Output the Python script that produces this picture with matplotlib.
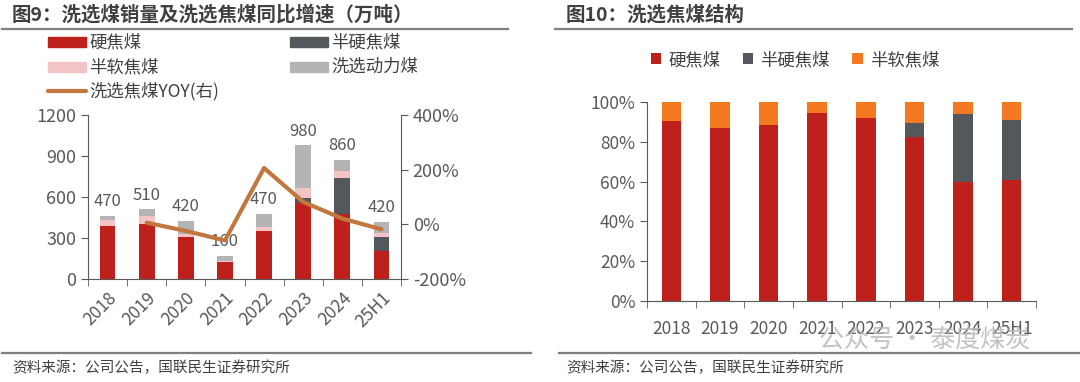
import matplotlib
matplotlib.use("Agg")
import matplotlib.pyplot as plt
import numpy as np
from matplotlib.ticker import FixedLocator, FuncFormatter
from matplotlib.lines import Line2D
from matplotlib.patches import Rectangle

plt.rcParams["font.family"] = ["Noto Sans CJK SC", "DejaVu Sans"]

# --------------------------------------------------------------------------- #
# Data
# --------------------------------------------------------------------------- #
years = ["2018", "2019", "2020", "2021", "2022", "2023", "2024", "25H1"]

# left chart, 万吨
hard = [390, 402, 310, 122, 351, 554, 473, 205]
semi_hard = [0, 0, 0, 0, 0, 41, 268, 105]
semi_soft = [42, 59, 20, 10, 32, 73, 49, 24]
thermal = [29, 49, 94, 39, 93, 312, 81, 86]
totals = [470, 510, 420, 160, 470, 980, 860, 420]
yoy_years = ["2019", "2020", "2021", "2022", "2023", "2024", "25H1"]
yoy = [6, -24, -59, 206, 82, 21, -18]

# right chart, share (%)
share_hard = [90.6, 86.8, 88.4, 94.6, 91.8, 82.2, 59.8, 60.8]
share_semi_hard = [0, 0, 0, 0, 0, 7.2, 34.2, 30.2]
share_semi_soft = [9.4, 13.2, 11.6, 5.4, 8.2, 10.6, 6.0, 9.0]

C_HARD = "#BE201C"
C_SEMIHARD = "#54575B"
C_SEMISOFT = "#F2C4C5"
C_THERMAL = "#B4B4B4"
C_YOY = "#C1773E"
C_ORANGE = "#F47920"
C_AXIS = "#595959"
C_TEXT = "#404040"
C_TICK = "#595959"

fig = plt.figure(figsize=(10.8, 3.82), dpi=100)
W, H = 1080, 382


def box(x0, y0, x1, y1):
    return [x0 / W, 1 - y1 / H, (x1 - x0) / W, (y1 - y0) / H]


def fy(y):
    return 1 - y / H


# titles, rules, footers
fig.text(12 / W, fy(15), "图9：洗选煤销量及洗选焦煤同比增速（万吨）", fontsize=14,
         fontweight="bold", color=C_TEXT, va="center")
fig.text(566 / W, fy(15), "图10：洗选焦煤结构", fontsize=14,
         fontweight="bold", color=C_TEXT, va="center")
for x0, x1, y in [(2, 508, 29), (555, 1072, 29), (2, 531, 353), (559, 1080, 353)]:
    fig.add_artist(Line2D([x0 / W, x1 / W], [fy(y), fy(y)], color="#7F7F7F", lw=1.6))
for sx in (12, 566):
    fig.text(sx / W, fy(368), "资料来源：公司公告，国联民生证券研究所", fontsize=10.5,
             color=C_TEXT, va="center")
# watermark (overlaps the tick labels in the source too)
fig.text(1030 / W, fy(340), "公众号 · 泰度煤炭", fontsize=18, color="#B8B8B8",
         alpha=0.85, ha="right", va="center")

# --------------------------------------------------------------------------- #
# Left chart
# --------------------------------------------------------------------------- #
ax = fig.add_axes(box(88, 115, 401, 279))
x = np.arange(len(years))
bw = 0.4
b = np.zeros(len(years))
for vals, col in [(hard, C_HARD), (semi_hard, C_SEMIHARD), (semi_soft, C_SEMISOFT), (thermal, C_THERMAL)]:
    ax.bar(x, vals, bw, bottom=b, color=col, zorder=2)
    b = b + np.array(vals)
for xi, top, t in zip(x, b, totals):
    ax.annotate(str(t), (xi, top), xytext=(0, 4), textcoords="offset points",
                ha="center", va="bottom", fontsize=12, color=C_TICK, zorder=5)
ax.set_xlim(-0.5, len(years) - 0.5)
ax.set_ylim(0, 1200)
ax.set_yticks([0, 300, 600, 900, 1200])
ax.xaxis.set_major_locator(FixedLocator(x))
ax.xaxis.set_minor_locator(FixedLocator(np.arange(-0.5, len(years), 1)))
ax.set_xticklabels(years, rotation=45, ha="right", rotation_mode="anchor")
ax.tick_params(axis="x", which="major", length=0, pad=7, labelsize=12.5, colors=C_TICK)
ax.tick_params(axis="x", which="minor", length=5, color=C_AXIS)
ax.tick_params(axis="y", length=5, color=C_AXIS, labelsize=13, labelcolor=C_TICK)
for s in ["top", "right"]:
    ax.spines[s].set_visible(False)
for s in ["left", "bottom"]:
    ax.spines[s].set_color(C_AXIS)

ax2 = ax.twinx()
ax2.plot([years.index(y) for y in yoy_years], yoy, color=C_YOY, lw=3, zorder=4,
         solid_capstyle="round")
ax2.set_ylim(-200, 400)
ax2.set_yticks([-200, 0, 200, 400])
ax2.yaxis.set_major_formatter(FuncFormatter(lambda v, p: f"{v:.0f}%"))
ax2.tick_params(axis="y", length=5, color=C_AXIS, labelsize=13, labelcolor=C_TICK)
for s in ["top", "left", "bottom"]:
    ax2.spines[s].set_visible(False)
ax2.spines["right"].set_color(C_AXIS)

# legend laid out as in the source (2 columns + line entry)
leg_items = [
    (C_HARD, "硬焦煤", 48, 42),
    (C_SEMIHARD, "半硬焦煤", 290, 42),
    (C_SEMISOFT, "半软焦煤", 48, 67),
    (C_THERMAL, "洗选动力煤", 290, 67),
]
for col, label, lx, ly in leg_items:
    fig.add_artist(Rectangle((lx / W, fy(ly + 5)), 38 / W, 10 / H, color=col,
                             transform=fig.transFigure))
    fig.text((lx + 41) / W, fy(ly), label, fontsize=12.5, color=C_TEXT, va="center")
fig.add_artist(Line2D([48 / W, 86 / W], [fy(91), fy(91)], color=C_YOY, lw=3,
                      solid_capstyle="round"))
fig.text(89 / W, fy(91), "洗选焦煤YOY(右)", fontsize=12.5, color=C_TEXT, va="center")

# --------------------------------------------------------------------------- #
# Right chart
# --------------------------------------------------------------------------- #
bx = fig.add_axes(box(647, 102, 1036, 301))
b = np.zeros(len(years))
for vals, col, lab in [(share_hard, C_HARD, "硬焦煤"), (share_semi_hard, C_SEMIHARD, "半硬焦煤"),
                       (share_semi_soft, C_ORANGE, "半软焦煤")]:
    bx.bar(x, vals, bw, bottom=b, color=col, label=lab, zorder=2)
    b = b + np.array(vals)
bx.set_xlim(-0.5, len(years) - 0.5)
bx.set_ylim(0, 100)
bx.set_yticks(np.arange(0, 101, 20))
bx.yaxis.set_major_formatter(FuncFormatter(lambda v, p: f"{v:.0f}%"))
bx.xaxis.set_major_locator(FixedLocator(x))
bx.xaxis.set_minor_locator(FixedLocator(np.arange(-0.5, len(years), 1)))
bx.set_xticklabels(years)
bx.tick_params(axis="x", which="major", length=0, pad=14, labelsize=12.5, colors=C_TICK)
bx.tick_params(axis="x", which="minor", length=5, color=C_AXIS)
bx.tick_params(axis="y", length=5, color=C_AXIS, labelsize=12.5, labelcolor=C_TICK)
for s in ["top", "right"]:
    bx.spines[s].set_visible(False)
for s in ["left", "bottom"]:
    bx.spines[s].set_color(C_AXIS)
bx.legend(loc="center", bbox_to_anchor=(795 / W, fy(60)), bbox_transform=fig.transFigure,
          ncol=3, frameon=False, fontsize=12.5, handlelength=0.6, handleheight=0.6,
          columnspacing=1.3, handletextpad=0.4, labelcolor=C_TEXT)

fig.savefig("out.png", dpi=100)
